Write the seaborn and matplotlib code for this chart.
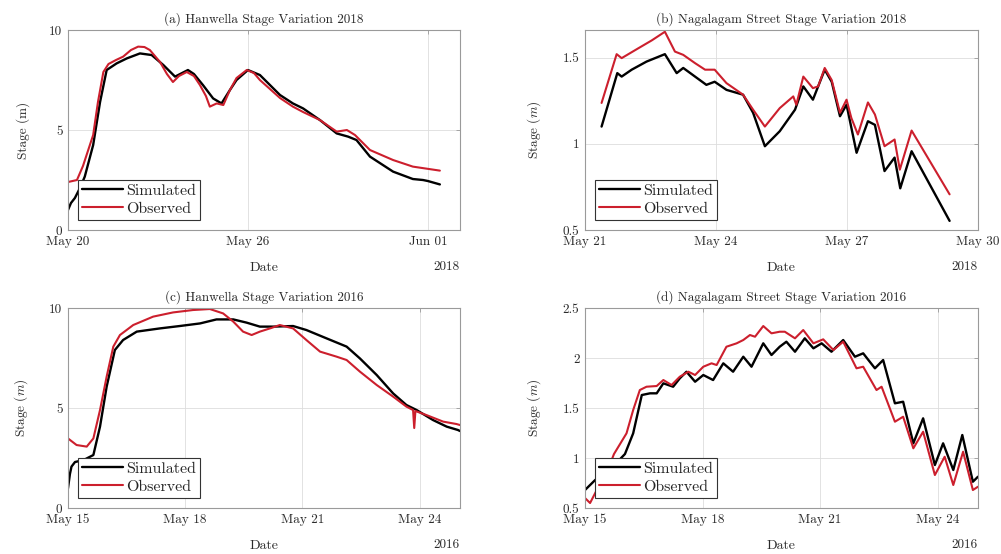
import numpy as np
import pandas as pd
import matplotlib
matplotlib.use('Agg')
import matplotlib.pyplot as plt
import matplotlib.dates as mdates
from matplotlib.ticker import FuncFormatter
import seaborn as sns

# --- data (times in days from panel start, stage in m) ---
a_start = '2018-05-20'
a_sim_t = [0, 0.1, 0.23, 0.4, 0.56, 0.84, 1.07, 1.29, 1.62, 1.96, 2.4, 2.79, 3.18, 3.57, 4.0, 4.2,
           4.5, 4.84, 5.12, 5.4, 5.62, 6.0, 6.4, 7.07, 7.5, 7.84, 8.4, 8.96, 9.34, 9.62, 10.07,
           10.84, 11.5, 11.84, 12.0, 12.4]
a_sim_v = [1.0, 1.35, 1.6, 2.1, 2.67, 4.25, 6.4, 8.0, 8.33, 8.58, 8.83, 8.75, 8.25, 7.67, 8.0, 7.8,
           7.25, 6.58, 6.33, 7.0, 7.5, 8.0, 7.75, 6.75, 6.33, 6.08, 5.5, 4.83, 4.67, 4.5, 3.67,
           2.92, 2.55, 2.5, 2.45, 2.28]
a_obs_t = [0, 0.3, 0.5, 0.84, 1.0, 1.18, 1.35, 1.6, 1.84, 2.1, 2.34, 2.55, 2.73, 3.07, 3.3, 3.5,
           3.7, 3.96, 4.2, 4.4, 4.6, 4.73, 4.96, 5.18, 5.4, 5.62, 5.96, 6.2, 6.4, 7.07, 7.5, 7.84,
           8.4, 8.96, 9.3, 9.57, 10.07, 10.84, 11.5, 12.4]
a_obs_v = [2.4, 2.5, 3.2, 4.75, 6.4, 7.9, 8.3, 8.5, 8.67, 9.0, 9.17, 9.15, 9.0, 8.4, 7.8, 7.4,
           7.7, 7.9, 7.7, 7.25, 6.7, 6.17, 6.33, 6.25, 7.0, 7.6, 8.0, 7.85, 7.5, 6.6, 6.17, 5.9,
           5.5, 4.92, 5.0, 4.75, 4.0, 3.5, 3.17, 2.97]

b_start = '2018-05-21'
b_sim_t = [0.38, 0.74, 0.84, 1.07, 1.41, 1.83, 2.1, 2.25, 2.52, 2.78, 2.97, 3.24, 3.62, 3.85, 4.12,
           4.46, 4.81, 5.0, 5.22, 5.49, 5.65, 5.84, 5.99, 6.22, 6.48, 6.64, 6.86, 7.09, 7.22, 7.48, 8.35]
b_sim_v = [1.10, 1.41, 1.39, 1.43, 1.477, 1.52, 1.41, 1.44, 1.39, 1.342, 1.36, 1.313, 1.285, 1.18, 0.986,
           1.073, 1.198, 1.333, 1.256, 1.43, 1.36, 1.16, 1.227, 0.948, 1.131, 1.11, 0.842, 0.92, 0.742, 0.957, 0.553]
b_obs_t = [0.38, 0.725, 0.84, 1.22, 1.53, 1.83, 2.06, 2.25, 2.52, 2.75, 2.97, 3.24, 3.62, 3.85, 4.12,
           4.46, 4.77, 4.84, 5.0, 5.22, 5.34, 5.49, 5.65, 5.84, 5.99, 6.1, 6.25, 6.48, 6.64, 6.86,
           7.09, 7.21, 7.48, 8.35]
b_obs_v = [1.237, 1.52, 1.497, 1.554, 1.60, 1.65, 1.535, 1.516, 1.468, 1.43, 1.43, 1.352, 1.285, 1.198, 1.10,
           1.207, 1.275, 1.227, 1.39, 1.323, 1.333, 1.44, 1.37, 1.18, 1.256, 1.15, 1.054, 1.24, 1.17, 0.986,
           1.025, 0.85, 1.077, 0.707]

c_start = '2016-05-15'
c_sim_t = [0, 0.05, 0.09, 0.18, 0.4, 0.65, 0.82, 0.99, 1.2, 1.41, 1.76, 2.35, 2.86, 3.38, 3.8, 4.23,
           4.57, 4.91, 5.25, 5.76, 6.1, 6.62, 7.13, 7.47, 7.9, 8.32, 8.66, 8.92, 9.34, 9.69, 9.98, 10.03]
c_sim_v = [0.98, 1.7, 2.07, 2.3, 2.4, 2.65, 4.07, 6.07, 7.9, 8.4, 8.82, 8.98, 9.1, 9.23, 9.43, 9.43,
           9.27, 9.07, 9.07, 9.1, 8.9, 8.48, 8.07, 7.48, 6.65, 5.73, 5.15, 4.9, 4.4, 4.07, 3.9, 3.85]
c_obs_t = [0, 0.22, 0.48, 0.65, 0.82, 0.99, 1.16, 1.33, 1.67, 2.18, 2.69, 3.2, 3.63, 3.97, 4.23,
           4.48, 4.7, 4.91, 5.2, 5.42, 5.76, 6.1, 6.45, 6.87, 7.13, 7.47, 7.9, 8.32, 8.66, 8.83,
           8.86, 8.89, 9.17, 9.6, 9.94, 10.03]
c_obs_v = [3.48, 3.15, 3.07, 3.48, 4.9, 6.57, 8.07, 8.65, 9.15, 9.57, 9.78, 9.9, 9.95, 9.73, 9.32,
           8.82, 8.65, 8.82, 9.0, 9.15, 8.98, 8.4, 7.82, 7.57, 7.4, 6.82, 6.15, 5.57, 5.07, 4.9,
           4.0, 4.85, 4.65, 4.32, 4.2, 4.15]

d_start = '2016-05-15'
d_sim_t = [0.0, 0.26, 0.5, 0.8, 1.02, 1.23, 1.45, 1.66, 1.83, 2.0, 2.25, 2.42, 2.59, 2.81, 3.02, 3.27,
           3.53, 3.78, 4.04, 4.25, 4.55, 4.76, 4.97, 5.14, 5.36, 5.61, 5.83, 6.04, 6.29, 6.59, 6.89,
           7.1, 7.4, 7.61, 7.91, 8.12, 8.38, 8.63, 8.93, 9.14, 9.4, 9.63, 9.9, 10.03]
d_sim_v = [0.68, 0.78, 0.85, 0.95, 1.04, 1.247, 1.63, 1.647, 1.647, 1.747, 1.713, 1.797, 1.863, 1.763,
           1.83, 1.78, 1.947, 1.863, 2.013, 1.913, 2.147, 2.03, 2.113, 2.163, 2.063, 2.197, 2.097,
           2.147, 2.063, 2.18, 2.013, 2.047, 1.897, 1.98, 1.547, 1.563, 1.147, 1.397, 0.93, 1.147,
           0.88, 1.23, 0.763, 0.813]
d_obs_t = [0.0, 0.13, 0.3, 0.55, 0.74, 1.06, 1.23, 1.4, 1.57, 1.83, 2.0, 2.21, 2.42, 2.64, 2.81, 3.02,
           3.23, 3.36, 3.61, 3.87, 4.04, 4.21, 4.34, 4.55, 4.76, 4.97, 5.1, 5.36, 5.57, 5.83, 6.08,
           6.34, 6.59, 6.93, 7.1, 7.44, 7.57, 7.91, 8.12, 8.38, 8.63, 8.93, 9.18, 9.4, 9.65, 9.9, 10.03]
d_obs_v = [0.6, 0.55, 0.68, 0.85, 1.04, 1.247, 1.48, 1.68, 1.713, 1.72, 1.78, 1.73, 1.813, 1.863,
           1.83, 1.913, 1.947, 1.93, 2.113, 2.147, 2.18, 2.23, 2.213, 2.32, 2.247, 2.263, 2.263,
           2.197, 2.28, 2.147, 2.187, 2.08, 2.163, 1.897, 1.913, 1.68, 1.713, 1.363, 1.413, 1.097,
           1.263, 0.83, 1.013, 0.73, 1.063, 0.68, 0.713]

titles = ['(a) Hanwella Stage Variation 2018', '(b) Nagalagam Street Stage Variation 2018',
          '(c) Hanwella Stage Variation 2016', '(d) Nagalagam Street Stage Variation 2016']
years = ['2018', '2018', '2016', '2016']
xticks = [['2018-05-20', '2018-05-26', '2018-06-01'],
          ['2018-05-21', '2018-05-24', '2018-05-27', '2018-05-30'],
          ['2016-05-15', '2016-05-18', '2016-05-21', '2016-05-24'],
          ['2016-05-15', '2016-05-18', '2016-05-21', '2016-05-24']]
xspan = [13.07, 9.0, 10.03, 10.03]
ylims = [(0, 10), (0.5, 1.66), (0, 10), (0.5, 2.5)]
yticks = [[0, 5, 10], [0.5, 1, 1.5], [0, 5, 10], [0.5, 1, 1.5, 2, 2.5]]
ylabels = ['Stage (m)', 'Stage ($m$)', 'Stage ($m$)', 'Stage ($m$)']

RED = '#cc1f2d'
TXT = '#2a2a2a'

sns.set_theme(style='whitegrid')
plt.rcParams['font.family'] = ['cmr10', 'DejaVu Serif']
plt.rcParams['mathtext.fontset'] = 'cm'
plt.rcParams['axes.unicode_minus'] = False
plt.rcParams['axes.formatter.use_mathtext'] = True


def series(start, t, v):
    base = pd.Timestamp(start)
    return pd.DataFrame({'time': base + pd.to_timedelta(t, unit='D'), 'stage': v})


panels = [(a_start, a_sim_t, a_sim_v, a_obs_t, a_obs_v),
          (b_start, b_sim_t, b_sim_v, b_obs_t, b_obs_v),
          (c_start, c_sim_t, c_sim_v, c_obs_t, c_obs_v),
          (d_start, d_sim_t, d_sim_v, d_obs_t, d_obs_v)]

fig = plt.figure(figsize=(10.01, 5.54), dpi=100)
positions = [[0.0679, 0.5848, 0.3916, 0.361], [0.5844, 0.5848, 0.3926, 0.361],
             [0.0679, 0.083, 0.3916, 0.361], [0.5844, 0.083, 0.3926, 0.361]]

for i, (start, st, sv, ot, ov) in enumerate(panels):
    ax = fig.add_axes(positions[i])
    sim = series(start, st, sv)
    obs = series(start, ot, ov)
    sns.lineplot(data=sim, x='time', y='stage', color='black', lw=1.7, label='Simulated', ax=ax)
    sns.lineplot(data=obs, x='time', y='stage', color=RED, lw=1.5, label='Observed', ax=ax)

    x0 = pd.Timestamp(start)
    ax.set_xlim(x0, x0 + pd.Timedelta(days=xspan[i]))
    ax.set_ylim(*ylims[i])
    ax.set_xticks(pd.to_datetime(xticks[i]))
    ax.xaxis.set_major_formatter(mdates.DateFormatter('%b %d'))
    ax.set_yticks(yticks[i])
    ax.yaxis.set_major_formatter(FuncFormatter(lambda v, p: f'{v:g}'))

    ax.grid(True, color='#dddddd', lw=0.6)
    for s in ax.spines.values():
        s.set_color('#9a9a9a')
        s.set_linewidth(0.8)
    ax.tick_params(axis='both', direction='in', length=3, width=0.6, color='#9a9a9a',
                   labelsize=9.5, labelcolor=TXT, top=True, right=True, pad=4)

    ax.set_title(titles[i], fontsize=9.5, color=TXT, pad=5)
    ax.set_xlabel('Date', fontsize=10, color=TXT, labelpad=10)
    ax.set_ylabel(ylabels[i], fontsize=9.5, color=TXT, labelpad=14)
    ax.text(1.0, -0.185, years[i], transform=ax.transAxes, ha='right', va='center',
            fontsize=9.5, color=TXT)

    leg = ax.legend(loc='lower left', bbox_to_anchor=(0.025, 0.05), borderaxespad=0,
                    fontsize=11.5, handlelength=2.6, handletextpad=0.15, borderpad=0.25,
                    labelspacing=0.25, fancybox=False, framealpha=1)
    leg.get_frame().set_edgecolor('#333333')
    leg.get_frame().set_linewidth(0.8)

fig.savefig('out.png', dpi=100)
